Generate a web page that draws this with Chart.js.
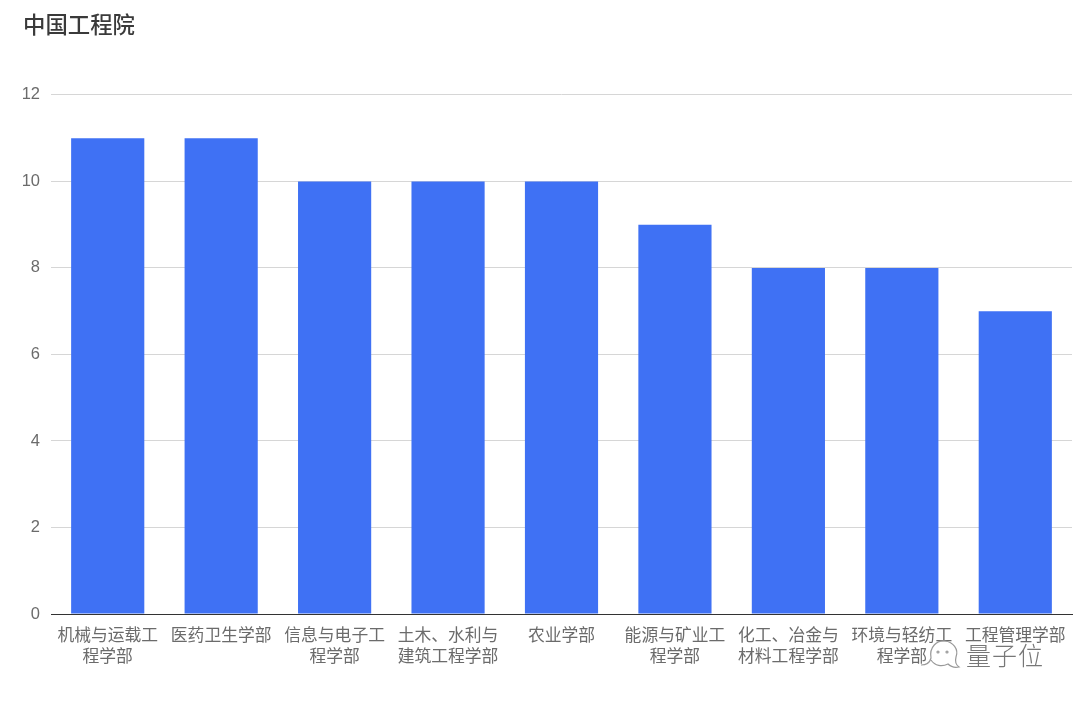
<!DOCTYPE html>
<html lang="zh">
<head>
<meta charset="utf-8">
<title>中国工程院</title>
<script src="https://cdn.jsdelivr.net/npm/chart.js@4"></script>
<style>
    html, body { margin: 0; padding: 0; background: #fff; }
    #wrap { position: relative; width: 1080px; height: 703px; overflow: hidden; }
    #watermark {
        position: absolute; left: 966px; top: 636px;
        font: 300 25px "Noto Sans CJK SC", sans-serif;
        letter-spacing: 1px; color: #777; line-height: 36px;
    }
    #wechat { position: absolute; left: 921px; top: 638px; }
</style>
</head>
<body>
<div id="wrap">
    <canvas id="academyChart" width="1080" height="703"></canvas>
    <svg id="wechat" width="44" height="34" viewBox="0 0 44 34" fill="none" stroke="#999" stroke-width="1.2">
        <path d="M0 27 C6 27 9 24 10 20 C8 9 16 2 24 3 C32 4 38 11 35 19 C34 23 35 27 38 29 C33 30 29 28 27 26 C21 29 14 28 10 22"/>
        <circle cx="17" cy="14" r="1"/>
        <circle cx="26" cy="14" r="1"/>
    </svg>
    <div id="watermark">量子位</div>
</div>
<script>
const categories = [
    ['机械与运载工', '程学部'],
    '医药卫生学部',
    ['信息与电子工', '程学部'],
    ['土木、水利与', '建筑工程学部'],
    '农业学部',
    ['能源与矿业工', '程学部'],
    ['化工、冶金与', '材料工程学部'],
    ['环境与轻纺工', '程学部'],
    '工程管理学部'
];
const memberCounts = [11, 11, 10, 10, 10, 9, 8, 8, 7];
const chartTitle = '中国工程院';

const cjkFont = '"Noto Sans CJK SC", sans-serif';

document.addEventListener("DOMContentLoaded", () => {
    const ctx = document.getElementById("academyChart").getContext("2d");

    new Chart(ctx, {
        type: 'bar',
        data: {
            labels: categories,
            datasets: [{
                data: memberCounts,
                backgroundColor: '#3f71f4',
                borderWidth: 0,
                categoryPercentage: 1,
                barPercentage: 0.645
            }]
        },
        options: {
            responsive: false,
            animation: false,
            layout: { padding: { left: 23, right: 8, top: 11, bottom: 0 } },
            plugins: {
                legend: { display: false },
                tooltip: { enabled: false },
                title: {
                    display: true,
                    text: chartTitle,
                    align: 'start',
                    color: '#3a3a3a',
                    font: { family: cjkFont, size: 22.4, weight: '500' },
                    padding: { top: 0, bottom: 57 }
                }
            },
            scales: {
                x: {
                    grid: { display: false },
                    border: { color: '#333', width: 1 },
                    afterFit: (scale) => { scale.height = 89; },
                    ticks: {
                        color: '#6b6b6b',
                        padding: 2,
                        maxRotation: 0,
                        autoSkip: false,
                        font: { family: cjkFont, size: 16.8, lineHeight: 1.25 }
                    }
                },
                y: {
                    min: 0,
                    max: 12,
                    border: { display: false },
                    afterFit: (scale) => { scale.width = 28; },
                    grid: { color: '#d6d6d6', tickLength: 0, drawTicks: false },
                    ticks: {
                        stepSize: 2,
                        color: '#6b6b6b',
                        padding: 11,
                        font: { family: '"Liberation Sans", sans-serif', size: 16.5 }
                    }
                }
            }
        }
    });
});
</script>
</body>
</html>
